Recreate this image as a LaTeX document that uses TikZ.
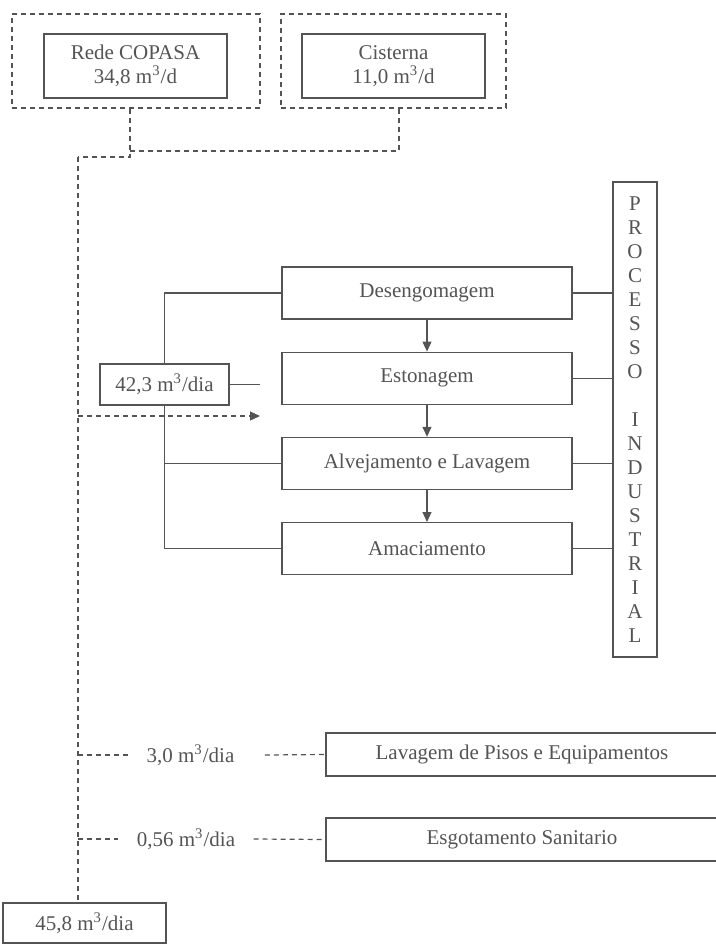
\documentclass[tikz,border=0pt]{standalone}
\usepackage{fontspec}
\setmainfont{Liberation Serif}
\usepackage{tikz}
\usetikzlibrary{positioning,arrows.meta}
\definecolor{ink}{gray}{0.33}

\begin{document}
\begin{tikzpicture}[
    x=0.5pt, y=-0.5pt,
    line width=0.6pt,
    node distance=16pt,
    every node/.style={font=\fontsize{10.5}{12}\selectfont, text=ink},
    box/.style={rectangle, draw=ink, minimum width=145pt, minimum height=26pt, align=center},
    srcbox/.style={rectangle, draw=ink, minimum width=91.5pt, minimum height=32pt, align=center},
    dashbox/.style={rectangle, draw=ink, dash pattern=on 2.5pt off 2pt, minimum height=47pt},
    flowbox/.style={rectangle, draw=ink, minimum height=20.5pt, align=center},
    qlabel/.style={inner sep=0pt},
    arrow/.style={-{Triangle[length=5pt,width=4.5pt]}, draw=ink},
    line/.style={draw=ink},
    dline/.style={draw=ink, dash pattern=on 2.5pt off 2pt}
]
\useasboundingbox (0,0) rectangle (716,944);

% ============ SOURCES (TOP) ============
\node[dashbox, minimum width=124pt] (redebox) at (136,61) {};
\node[srcbox] (rede) at (135.5,66) {Rede COPASA\\34,8 m\textsuperscript{3}/d};
\node[dashbox, minimum width=112.5pt] (cistbox) at (393.5,61) {};
\node[srcbox] (cist) at (393.5,66) {Cisterna\\11,0 m\textsuperscript{3}/d};

% Junctions of the supply line
\coordinate (jmid) at (130,151);
\coordinate (jtop) at (130,157);
\coordinate (jleft) at (78,157);

\draw[dline] ([xshift=2.75pt]cistbox.south) |- (jmid);
\draw[dline] ([xshift=-3pt]redebox.south) -- (jtop) -- (jleft);

% ============ INDUSTRIAL PROCESS ============
\node[box] (deseng) at (427,293) {Desengomagem};
\node[box, below=of deseng] (eston) {Estonagem};
\node[box, below=of eston] (alvej) {Alvejamento e Lavagem};
\node[box, below=of alvej] (amac) {Amaciamento};

\node[rectangle, draw=ink, minimum width=22pt, minimum height=237.5pt, align=center]
    (proc) at (635,419.5) {P\\R\\O\\C\\E\\S\\S\\O\\[12pt]I\\N\\D\\U\\S\\T\\R\\I\\A\\L};

% Arrows
\draw[arrow] (deseng) -- (eston);
\draw[arrow] (eston) -- (alvej);
\draw[arrow] (alvej) -- (amac);
\foreach \n in {deseng,eston,alvej,amac}
    \draw[line] (\n.east) -- (\n.east -| proc.west);

% Process water
\node[flowbox, minimum width=64.5pt] (inflow) at (164.5,384.5) {42,3 m\textsuperscript{3}/dia};
\coordinate (instub) at (260,384.5);
\draw[line] (inflow.east) -- (instub);
\draw[line] (inflow.north) |- (deseng.west);
\draw[line] (inflow.south) |- (alvej.west);
\draw[line] (inflow.south) |- (amac.west);

\coordinate (jarrow) at (78,416);
\coordinate (arrtip) at (260,416);
\draw[arrow, dline] (jarrow) -- (arrtip);

% ============ OTHER USES (BOTTOM) ============
\node[flowbox, minimum width=196pt, minimum height=21.5pt] (pisos) at (522,754.5) {Lavagem de Pisos e Equipamentos};
\node[flowbox, minimum width=196pt, minimum height=21.5pt] (esgot) at (522,839.5) {Esgotamento Sanitario};

\node[qlabel] (q30) at (190.5,755) {3,0 m\textsuperscript{3}/dia};
\node[qlabel] (q056) at (186,839) {0,56 m\textsuperscript{3}/dia};

\draw[dline] (jleft |- q30) -- ([xshift=-8pt]q30.west);
\draw[dline] ([xshift=15pt]q30.east) -- (pisos.west);
\draw[dline] (jleft |- q056) -- ([xshift=-9pt]q056.west);
\draw[dline] ([xshift=9pt]q056.east) -- (esgot.west);

% Total
\node[flowbox, minimum width=81.5pt, minimum height=20pt] (total) at (84.5,923) {45,8 m\textsuperscript{3}/dia};
\draw[dline] (jleft) -- (jleft |- total.north);

\end{tikzpicture}
\end{document}
